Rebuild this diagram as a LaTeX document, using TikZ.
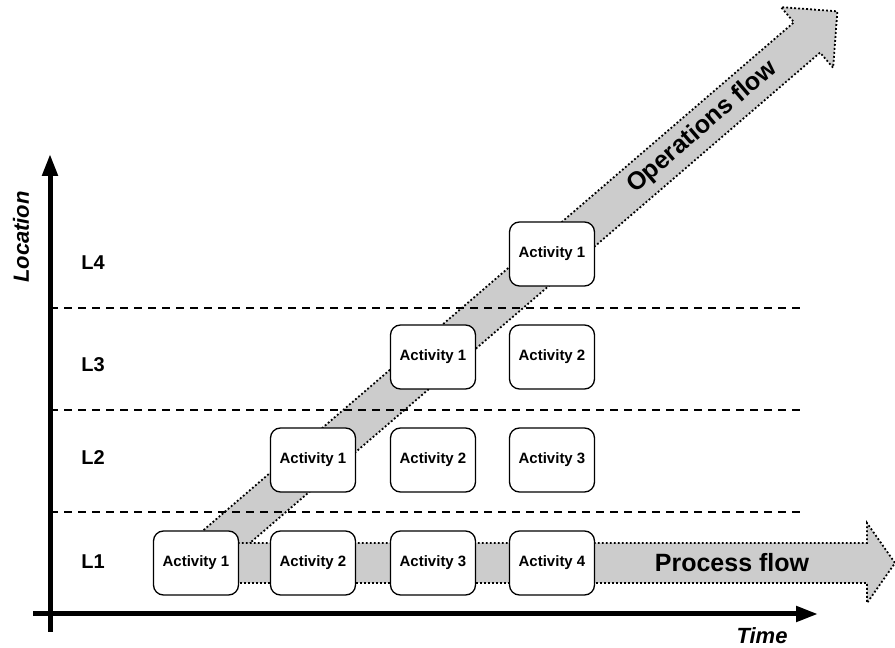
\documentclass[tikz,border=0pt]{standalone}
\usepackage{fontspec}
\setmainfont{Liberation Sans}
\usetikzlibrary{arrows.meta}
\definecolor{flowgray}{RGB}{204,204,204}
\tikzset{
  actbox/.style={draw=black, fill=white, line width=1.3pt, rounded corners=10pt,
    minimum width=85pt, minimum height=64pt, inner sep=0pt,
    font=\fontsize{15}{17}\selectfont\bfseries},
  flowarrow/.style={fill=flowgray, draw=black, line width=1.8pt,
    dash pattern=on 1.8pt off 2.2pt},
  levellabel/.style={font=\fontsize{20}{22}\selectfont\bfseries},
  sepline/.style={line width=1.3pt, dash pattern=on 8pt off 6pt},
  axisline/.style={line width=5pt, -{Triangle[length=22pt,width=15pt]}},
  axislabel/.style={font=\fontsize{22}{24}\selectfont\bfseries\itshape},
  flowlabel/.style={font=\fontsize{25}{28}\selectfont\bfseries}
}
\begin{document}
\begin{tikzpicture}[x=1pt,y=1pt]
\useasboundingbox (0,0) rectangle (895,648);

% operations flow (diagonal)
\begin{scope}[shift={(196,85)}, rotate=40.7]
  \path[flowarrow] (0,-20) -- (806,-20) -- (806,-40) -- (846,0) -- (806,40) -- (806,20) -- (0,20) -- cycle;
  \node[flowlabel, rotate=40.7] (opsflow) at (668,0) {Operations flow};
\end{scope}

% process flow (horizontal)
\path[flowarrow] (196,65) -- (867,65) -- (867,45) -- (895,85) -- (867,125) -- (867,105) -- (196,105) -- cycle;
\node[flowlabel] (procflow) at (732,85) {Process flow};

% separator lines
\coordinate (s1a) at (50,136); \coordinate (s1b) at (800,136);
\coordinate (s2a) at (50,238); \coordinate (s2b) at (800,238);
\coordinate (s3a) at (50,340); \coordinate (s3b) at (800,340);
\draw[sepline] (s1a) -- (s1b);
\draw[sepline] (s2a) -- (s2b);
\draw[sepline] (s3a) -- (s3b);

% axes
\coordinate (yaxb) at (50,16); \coordinate (yaxt) at (50,494);
\coordinate (xaxl) at (33,34); \coordinate (xaxr) at (818,34);
\draw[axisline] (yaxb) -- (yaxt);
\draw[axisline] (xaxl) -- (xaxr);
\node[axislabel, rotate=90] (loclabel) at (21,411) {Location};
\node[axislabel] (timelabel) at (762,12) {Time};

% level labels
\node[levellabel] (l4) at (93,385) {L4};
\node[levellabel] (l3) at (93,283) {L3};
\node[levellabel] (l2) at (93,190) {L2};
\node[levellabel] (l1) at (93,86) {L1};

% activity boxes
\node[actbox] (a11) at (196,85) {Activity 1};
\node[actbox] (a12) at (313,85) {Activity 2};
\node[actbox] (a13) at (433,85) {Activity 3};
\node[actbox] (a14) at (552,85) {Activity 4};
\node[actbox] (a21) at (313,188) {Activity 1};
\node[actbox] (a22) at (433,188) {Activity 2};
\node[actbox] (a23) at (552,188) {Activity 3};
\node[actbox] (a31) at (433,291) {Activity 1};
\node[actbox] (a32) at (552,291) {Activity 2};
\node[actbox] (a41) at (552,394) {Activity 1};
\end{tikzpicture}
\end{document}
